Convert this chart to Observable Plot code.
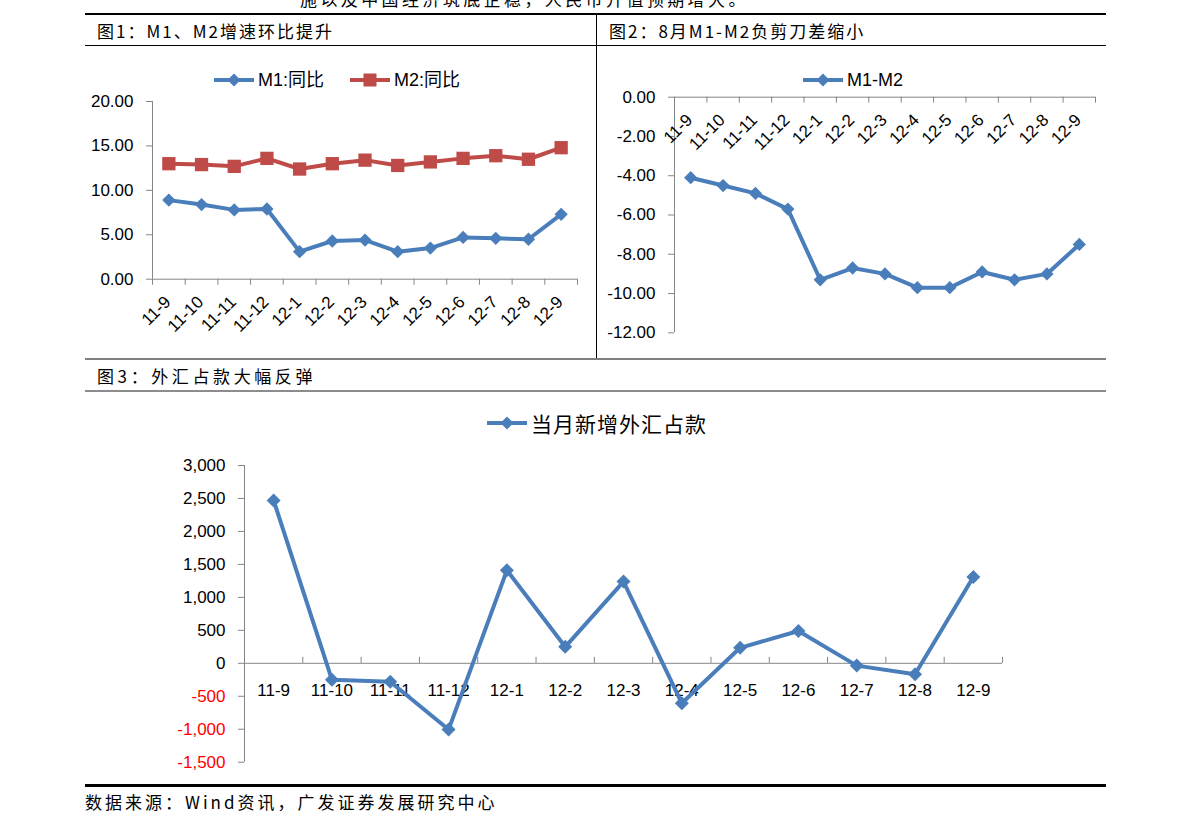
<!DOCTYPE html>
<html><head><meta charset="utf-8">
<script src="https://cdn.jsdelivr.net/npm/d3@7"></script>
<script src="https://cdn.jsdelivr.net/npm/@observablehq/plot@0.6"></script>
<style>
body{margin:0;background:#fff;}
#page{position:relative;width:1191px;height:833px;overflow:hidden;background:#fff;font-family:"Noto Sans CJK SC",sans-serif;}
.hl{position:absolute;left:85px;width:1021px;}
.t{position:absolute;font-size:17px;color:#000;white-space:nowrap;line-height:20px;font-family:"Noto Sans CJK SC",sans-serif;}
.lg{position:absolute;display:flex;align-items:center;white-space:nowrap;color:#000;line-height:20px;}
.lg svg{display:block;margin-right:4px;}
</style></head><body><div id="page"></div>
<script>
// ---- data ----
const months = ["11-9","11-10","11-11","11-12","12-1","12-2","12-3","12-4","12-5","12-6","12-7","12-8","12-9"];
const m1 = [8.9, 8.4, 7.8, 7.9, 3.1, 4.3, 4.4, 3.1, 3.5, 4.7, 4.6, 4.5, 7.3];
const m2 = [13.0, 12.9, 12.7, 13.6, 12.4, 13.0, 13.4, 12.8, 13.2, 13.6, 13.9, 13.5, 14.8];
const m1m2 = [-4.1, -4.5, -4.9, -5.7, -9.3, -8.7, -9.0, -9.7, -9.7, -8.9, -9.3, -9.0, -7.5];
const fx = [2470, -250, -280, -1005, 1410, 250, 1240, -605, 235, 490, -35, -165, 1310];
const ticks1 = [0, 5, 10, 15, 20];
const ticks2 = [0, -2, -4, -6, -8, -10, -12];
const ticks3 = [3000, 2500, 2000, 1500, 1000, 500, 0, -500, -1000, -1500];

const gray = "#868686", blue = "#4A7EBB", red = "#BE4B48";
const loc = d3.formatLocale({decimal: ".", thousands: ",", grouping: [3], currency: ["", ""], minus: "-"});
const f2 = loc.format(".2f"), fc = loc.format(",");
const page = document.getElementById("page");

function el(tag, cls, css, html) {
  const e = document.createElement(tag);
  if (cls) e.className = cls;
  Object.assign(e.style, css);
  if (html != null) e.innerHTML = html;
  page.appendChild(e);
  return e;
}
function place(svg, left, top) {
  svg.style.position = "absolute";
  svg.style.left = left + "px";
  svg.style.top = top + "px";
  page.appendChild(svg);
}
function swatch(color, shape) {
  const m = shape === "square"
    ? `<rect x="13.5" y="0.5" width="13" height="13" fill="${color}"/>`
    : `<path d="M20,0.5L26.5,7L20,13.5L13.5,7Z" fill="${color}"/>`;
  return `<svg width="40" height="14"><line x1="0" y1="7" x2="40" y2="7" stroke="${color}" stroke-width="4"/>${m}</svg>`;
}
function legend(top, items, font) {
  items.forEach(([l, color, shape, text]) => {
    el("div", "lg", {left: l + "px", top: top + "px", fontSize: font.size, fontFamily: font.family, letterSpacing: font.ls || "0", lineHeight: font.lh || "20px"},
      swatch(color, shape) + `<span>${text}</span>`);
  });
}

// ---- frame lines & texts ----
el("div", "t", {left: "300px", top: "-11px", letterSpacing: "3.4px"}, "施以及中国经济筑底企稳，人民币升值预期增大。");
el("div", "hl", {top: "12.5px", height: "2.5px", background: "#000"});
el("div", "", {position: "absolute", left: "596px", top: "14px", width: "1px", height: "345px", background: "#000"});
el("div", "hl", {top: "45px", height: "1px", background: "#000"});
el("div", "hl", {top: "358px", height: "2px", background: "#7f7f7f"});
el("div", "hl", {top: "390px", height: "2px", background: "#8c8c8c"});
el("div", "hl", {top: "784px", height: "2.5px", background: "#000"});
el("div", "t", {left: "97px", top: "21px", letterSpacing: "2px"}, "图1：M1、M2增速环比提升");
el("div", "t", {left: "609px", top: "21px", letterSpacing: "2px"}, "图2：8月M1-M2负剪刀差缩小");
el("div", "t", {left: "97px", top: "366px", letterSpacing: "3.6px"}, "图3：外汇占款大幅反弹");
el("div", "t", {left: "85px", top: "792px", letterSpacing: "3px"}, "数据来源：Wind资讯，广发证券发展研究中心");

const axisFont = {fontFamily: "'Liberation Sans', Arial, sans-serif", fontSize: "17px", color: "#000", background: "transparent", overflow: "visible"};

// ---- chart 1 ----
const rows1 = months.map((m, i) => ({m, x: i + 0.5, m1: m1[i], m2: m2[i]}));
const c1 = Plot.plot({
  width: 511, height: 312,
  marginLeft: 67, marginRight: 19, marginTop: 55, marginBottom: 79.3,
  x: {domain: [0, months.length], axis: null},
  y: {domain: [0, 20], axis: null},
  style: axisFont,
  marks: [
    Plot.axisY({ticks: ticks1, tickFormat: f2, tickSize: 6, tickPadding: 13, stroke: gray, fill: "#000", label: null}),
    Plot.ruleX([0], {stroke: gray}),
    Plot.ruleY([0], {stroke: gray}),
    Plot.ruleX(d3.range(months.length + 1), {x: d => d, y1: () => 0, y2: () => 0, insetBottom: -6, stroke: gray}),
    Plot.text(rows1, {x: "x", y: () => 0, text: "m", rotate: -45, textAnchor: "end", dx: -1, dy: 20, fill: "#000"}),
    Plot.line(rows1, {x: "x", y: "m2", stroke: red, strokeWidth: 4}),
    Plot.dot(rows1, {x: "x", y: "m2", symbol: "square", r: 7.5, fill: red}),
    Plot.line(rows1, {x: "x", y: "m1", stroke: blue, strokeWidth: 4}),
    Plot.dot(rows1, {x: "x", y: "m1", symbol: "diamond2", r: 6, fill: blue})
  ]
});
place(c1, 85, 46);
legend(70, [[214, blue, "diamond", "M1:同比"], [350, red, "square", "M2:同比"]],
  {size: "18px", family: "'Liberation Sans', 'Noto Sans CJK SC', sans-serif"});

// ---- chart 2 ----
const rows2 = months.map((m, i) => ({m, x: i + 0.5, v: m1m2[i]}));
const c2 = Plot.plot({
  width: 509, height: 312,
  marginLeft: 77, marginRight: 11, marginTop: 50.7, marginBottom: 25.7,
  x: {domain: [0, months.length], axis: null},
  y: {domain: [-12, 0], axis: null},
  style: axisFont,
  marks: [
    Plot.axisY({ticks: ticks2, tickFormat: f2, tickSize: 6, tickPadding: 13, stroke: gray, fill: "#000", label: null}),
    Plot.ruleX([0], {stroke: gray}),
    Plot.ruleY([0], {stroke: gray}),
    Plot.ruleX(d3.range(months.length + 1), {x: d => d, y1: () => 0, y2: () => 0, insetBottom: -6, stroke: gray}),
    Plot.text(rows2, {x: "x", y: () => 0, text: "m", rotate: -45, textAnchor: "end", dx: -1, dy: 20, fill: "#000"}),
    Plot.line(rows2, {x: "x", y: "v", stroke: blue, strokeWidth: 4}),
    Plot.dot(rows2, {x: "x", y: "v", symbol: "diamond2", r: 6, fill: blue})
  ]
});
place(c2, 597, 46);
legend(70, [[803, blue, "diamond", "M1-M2"]],
  {size: "18px", family: "'Liberation Sans', 'Noto Sans CJK SC', sans-serif"});

// ---- chart 3 ----
const rows3 = months.map((m, i) => ({m, x: i + 0.5, v: fx[i]}));
const c3 = Plot.plot({
  width: 1021, height: 392,
  marginLeft: 159, marginRight: 104, marginTop: 73, marginBottom: 22.3,
  x: {domain: [0, months.length], axis: null},
  y: {domain: [-1500, 3000], axis: null},
  style: axisFont,
  marks: [
    Plot.axisY({ticks: ticks3.filter(d => d >= 0), tickFormat: fc, tickSize: 6, tickPadding: 13, stroke: gray, fill: "#000", label: null}),
    Plot.axisY({ticks: ticks3.filter(d => d < 0), tickFormat: fc, tickSize: 6, tickPadding: 13, stroke: gray, fill: "#FF0000", label: null}),
    Plot.ruleX([0], {stroke: gray}),
    Plot.ruleY([0], {stroke: gray}),
    Plot.ruleX(d3.range(1, months.length + 1), {x: d => d, y1: () => 0, y2: () => 0, insetTop: -6, stroke: gray}),
    Plot.text(rows3, {x: "x", y: () => 0, text: "m", dy: 27, fill: "#000"}),
    Plot.line(rows3, {x: "x", y: "v", stroke: blue, strokeWidth: 4}),
    Plot.dot(rows3, {x: "x", y: "v", symbol: "diamond2", r: 6.3, fill: blue})
  ]
});
place(c3, 85, 392);
legend(408, [[487, blue, "diamond", "当月新增外汇占款"]],
  {size: "21px", family: "'Noto Sans CJK SC', sans-serif", ls: "1px", lh: "30px"});
</script></body></html>
